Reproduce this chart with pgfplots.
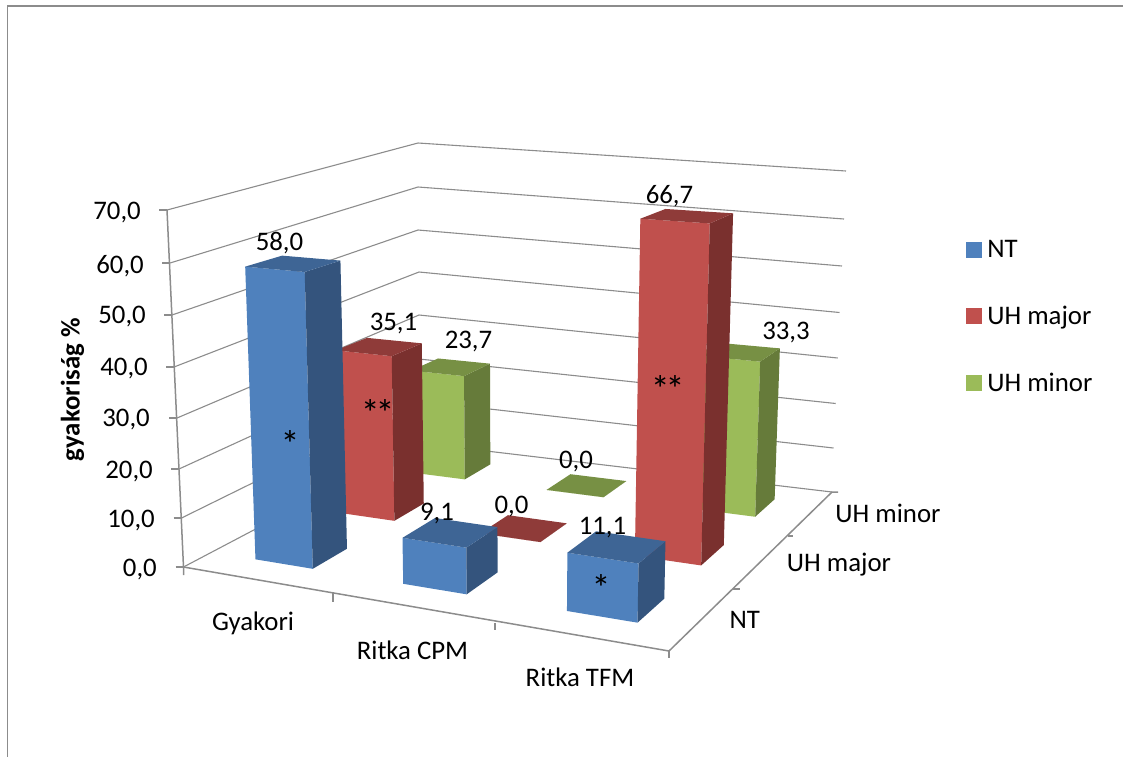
\documentclass[border=0pt]{standalone}
\usepackage{fontspec}
\setmainfont{Carlito}
\usepackage{pgfplots}
\usepackage{pgfplotstable}
\pgfplotsset{compat=1.18}

\definecolor{blueF}{HTML}{4F81BD}
\definecolor{blueS}{HTML}{34547D}
\definecolor{blueT}{HTML}{3E6595}
\definecolor{redF}{HTML}{C0504D}
\definecolor{redS}{HTML}{7A302E}
\definecolor{redT}{HTML}{8F3B39}
\definecolor{greenF}{HTML}{9BBB59}
\definecolor{greenS}{HTML}{667B3A}
\definecolor{greenT}{HTML}{779044}
\definecolor{gridgray}{HTML}{8C8C8C}

% values in percent, one row per category
\pgfplotstableread{
cat NT UHmajor UHminor
0   58.0 35.1 23.7
1   9.1  0.0  0.0
2   11.1 66.7 33.3
}\barvalues

% perspective of the 3D chart: u along categories, v along series (both 0..1), h in percent
\newcommand{\proj}[4]{%
  \pgfmathsetmacro\pk{(#3)/70*(1.0085-0.037*(#1))}%
  \pgfmathsetmacro\pw{1-0.1477*(#1)+0.2351*(#2)-0.046*\pk}%
  \pgfmathsetmacro\pa{(183+387.2*(#1)+334.5*(#2)-23.68*\pk)/\pw}%
  \pgfmathsetmacro\pb{(567-12.15*(#1)-19.9*(#2)-366.66*\pk)/\pw}%
  \expandafter\edef\csname #4\endcsname{(\pa,\pb)}%
}
\newcommand{\face}[5]{%
  \edef\temp{\noexpand\addplot[fill=#1,draw=none,forget plot] coordinates {#2 #3 #4 #5} --cycle;}\temp
}
% #1 category row, #2 series column, #3 series index, #4 colour prefix
\newcommand{\threedbar}[4]{%
  \pgfplotstablegetelem{#1}{#2}\of\barvalues
  \let\hh\pgfplotsretval
  \pgfmathsetmacro\ua{(#1+0.5)/3+0.006-0.0667}%
  \pgfmathsetmacro\ub{(#1+0.5)/3+0.006+0.0667}%
  \pgfmathsetmacro\va{(#3+0.5)/3-0.0667}%
  \pgfmathsetmacro\vb{(#3+0.5)/3+0.0667}%
  \proj{\ua}{\va}{0}{AA}\proj{\ub}{\va}{0}{BB}\proj{\ub}{\vb}{0}{CC}%
  \proj{\ua}{\va}{\hh}{DD}\proj{\ub}{\va}{\hh}{EE}\proj{\ub}{\vb}{\hh}{FF}\proj{\ua}{\vb}{\hh}{GG}%
  \face{#4F}{\AA}{\BB}{\EE}{\DD}%
  \face{#4S}{\BB}{\CC}{\FF}{\EE}%
  \face{#4T}{\DD}{\EE}{\FF}{\GG}%
}

\tikzset{
  lbl/.style={font=\fontsize{26.8}{32}\selectfont, anchor=base, inner sep=0pt},
  ast/.style={font=\fontsize{38}{44}\selectfont, anchor=base, inner sep=0pt},
}
\pgfplotsset{
  grd/.style={draw=gridgray, line width=1.1pt, forget plot},
  axl/.style={draw=gridgray, line width=1.5pt, forget plot},
}

\begin{document}
\begin{tikzpicture}
  \useasboundingbox (0,0) rectangle (1123pt,756pt);
  \begin{axis}[
      at={(0,0)}, anchor=south west,
      width=1123pt, height=756pt, scale only axis,
      xmin=0, xmax=1123, ymin=0, ymax=756,
      y dir=reverse,
      hide axis, clip=false,
      legend style={
        draw=none, fill=none,
        at={(rel axis cs:0.8601,0.6852)}, anchor=north west,
        font=\fontsize{26.8}{32}\selectfont,
        row sep=43pt,
        inner sep=0pt, outer sep=0pt,
        /tikz/column 1/.style={column sep=4pt},
      },
      legend cell align={left},
    ]

    % chart frame, only its left and top edges are on the image
    \addplot[draw=gridgray, line width=1.6pt, forget plot] coordinates {(7.3,758)(7.3,6)(1125,6)};

    % gridlines on the two walls
    \addplot[grd] coordinates {(167,210)(418,143)(846,171)};
    \addplot[grd] coordinates {(170,263)(418,187)(844,219)};
    \addplot[grd] coordinates {(172,315)(418,230)(842,266)};
    \addplot[grd] coordinates {(174,367)(419,272)(839.5,312.5)};
    \addplot[grd] coordinates {(177,418)(419,315)(837.7,358)};
    \addplot[grd] coordinates {(179,469)(419,359)(835.7,403.5)};
    \addplot[grd] coordinates {(181.5,518)(419,401)(833.5,448)};
    \addplot[grd] coordinates {(183.5,567)(419,443)(832,492)};

    % value axis and its ticks
    \addplot[axl] coordinates {(167,210)(183.5,567)(183.5,575)};
    \addplot[axl] coordinates {(159,210)(167,210)};
    \addplot[axl] coordinates {(162,263)(170,263)};
    \addplot[axl] coordinates {(164,315)(172,315)};
    \addplot[axl] coordinates {(166,367)(174,367)};
    \addplot[axl] coordinates {(169,418)(177,418)};
    \addplot[axl] coordinates {(171,469)(179,469)};
    \addplot[axl] coordinates {(173.5,518)(181.5,518)};
    \addplot[axl] coordinates {(175.5,567)(183.5,567)};

    % floor edges and ticks
    \addplot[axl] coordinates {(183.5,567)(669,651)(832,492)(838,492)};
    \addplot[axl] coordinates {(333,593)(333,602)};
    \addplot[axl] coordinates {(495,623)(495,630)};
    \addplot[axl] coordinates {(669,651)(669,658)};
    \addplot[axl] coordinates {(733,589)(740,589)};
    \addplot[axl] coordinates {(788,536)(793,536)};

    % bars, back row first
    \threedbar{0}{UHminor}{2}{green}
    \threedbar{1}{UHminor}{2}{green}
    \threedbar{2}{UHminor}{2}{green}
    \threedbar{0}{UHmajor}{1}{red}
    \threedbar{1}{UHmajor}{1}{red}
    \threedbar{2}{UHmajor}{1}{red}
    \threedbar{0}{NT}{0}{blue}
    \threedbar{1}{NT}{0}{blue}
    \threedbar{2}{NT}{0}{blue}

    % legend
    \addlegendimage{legend image code/.code={\fill[blueF] (0pt,-7.5pt) rectangle (15pt,7.5pt);}}
    \addlegendentry{NT}
    \addlegendimage{legend image code/.code={\fill[redF] (0pt,-7.5pt) rectangle (15pt,7.5pt);}}
    \addlegendentry{UH major}
    \addlegendimage{legend image code/.code={\fill[greenF] (0pt,-7.5pt) rectangle (15pt,7.5pt);}}
    \addlegendentry{UH minor}

    % value axis labels
    \node[lbl, anchor=base east] at (axis cs:141,219.5) {70,0};
    \node[lbl, anchor=base east] at (axis cs:144,273.5) {60,0};
    \node[lbl, anchor=base east] at (axis cs:146,323.5) {50,0};
    \node[lbl, anchor=base east] at (axis cs:148,375.5) {40,0};
    \node[lbl, anchor=base east] at (axis cs:150,426.5) {30,0};
    \node[lbl, anchor=base east] at (axis cs:153,478.5) {20,0};
    \node[lbl, anchor=base east] at (axis cs:155,527.5) {10,0};
    \node[lbl, anchor=base east] at (axis cs:157,576.5) {0,0};
    \node[font=\fontsize{26.8}{32}\selectfont\bfseries, rotate=90, inner sep=0pt, anchor=base] at (axis cs:79.5,389.5) {gyakoriság \%};

    % category and series labels
    \node[lbl] at (axis cs:253,630) {Gyakori};
    \node[lbl] at (axis cs:412.5,659) {Ritka CPM};
    \node[lbl] at (axis cs:580,686) {Ritka TFM};
    \node[lbl] at (axis cs:744.7,628.5) {NT};
    \node[lbl] at (axis cs:839,571.5) {UH major};
    \node[lbl] at (axis cs:888,522.5) {UH minor};

    % data labels
    \node[lbl] at (axis cs:279.5,250.5) {58,0};
    \node[lbl] at (axis cs:393.5,330.5) {35,1};
    \node[lbl] at (axis cs:468.5,348.5) {23,7};
    \node[lbl] at (axis cs:437,520.5) {9,1};
    \node[lbl] at (axis cs:511.5,513.5) {0,0};
    \node[lbl] at (axis cs:576,468.5) {0,0};
    \node[lbl] at (axis cs:602.5,534.5) {11,1};
    \node[lbl] at (axis cs:669.5,203.5) {66,7};
    \node[lbl] at (axis cs:786,339.5) {33,3};

    % significance marks
    \node[ast] at (axis cs:290,457) {*};
    \node[ast] at (axis cs:377.7,426.7) {*\kern-4pt*};
    \node[ast] at (axis cs:667.7,402.7) {*\kern-4pt*};
    \node[ast] at (axis cs:601,601.7) {*};
  \end{axis}
\end{tikzpicture}
\end{document}
